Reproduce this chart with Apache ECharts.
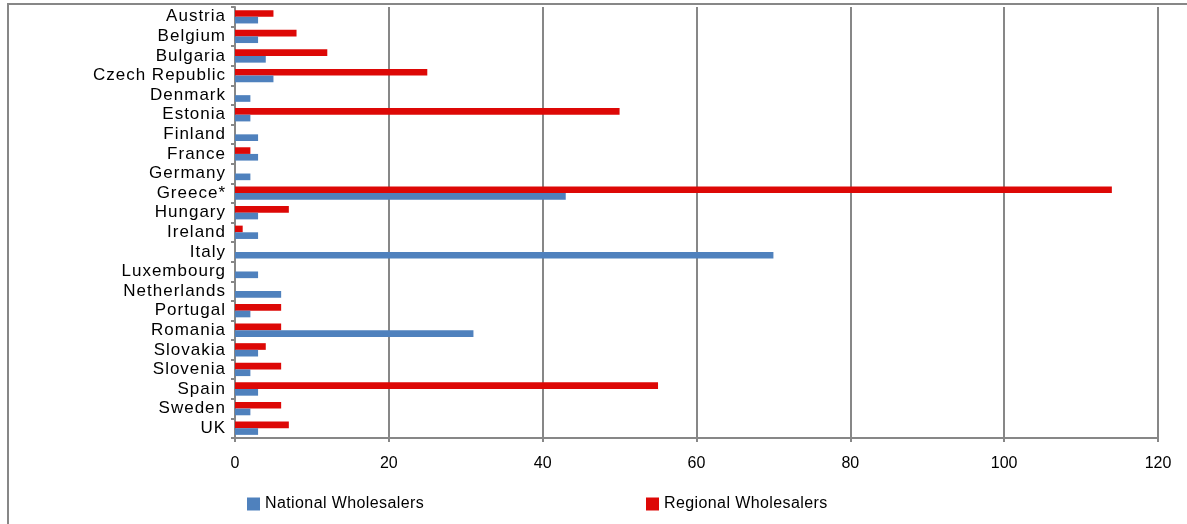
<!DOCTYPE html>
<html>
<head>
<meta charset="utf-8">
<script src="https://cdn.jsdelivr.net/npm/echarts@6/dist/echarts.min.js"></script>
<style>
html,body{margin:0;padding:0;background:#fff;}
#chart{width:1187px;height:524px;}
</style>
</head>
<body>
<div id="chart"></div>
<script>
const categories = ["Austria","Belgium","Bulgaria","Czech Republic","Denmark","Estonia","Finland","France","Germany","Greece*","Hungary","Ireland","Italy","Luxembourg","Netherlands","Portugal","Romania","Slovakia","Slovenia","Spain","Sweden","UK"];
const nationalWholesalers = [3,3,4,5,2,2,3,3,2,43,3,3,70,3,6,2,31,3,2,3,2,3];
const regionalWholesalers = [5,8,12,25,0,50,0,2,0,114,7,1,0,0,0,6,6,4,6,55,6,7];
const xTicks = [0,20,40,60,80,100,120];
const seriesNames = ['National Wholesalers','Regional Wholesalers'];

// mimic the spaced-out text rendering of the original (letter spacing)
(function(){
  const proto = CanvasRenderingContext2D.prototype;
  const orig = proto.fillText;
  proto.fillText = function(text, x, y, maxW){
    let ls = '0px';
    if (categories.indexOf(text) >= 0) ls = '1px';
    else if (seriesNames.indexOf(text) >= 0) ls = '0.4px';
    const prev = this.letterSpacing;
    if ('letterSpacing' in this) this.letterSpacing = ls;
    const r = maxW === undefined ? orig.call(this, text, x, y) : orig.call(this, text, x, y, maxW);
    if ('letterSpacing' in this) this.letterSpacing = prev;
    return r;
  };
})();

const chart = echarts.init(document.getElementById('chart'), null, {renderer:'canvas'});
const font = 'Liberation Sans, Arial, sans-serif';
const gray = '#878787';
const legendText = {fontSize:16, color:'#000', fontFamily:font};
chart.setOption({
  animation:false,
  textStyle:{fontFamily:font},
  graphic:[{type:'rect', shape:{x:8,y:4,width:1300,height:600}, style:{fill:'none', stroke:gray, lineWidth:2}, silent:true, z:-1}],
  grid:{left:235, right:29, top:7, bottom:86, containLabel:false},
  legend:[
    {top:496, left:247, padding:0, itemWidth:13, itemHeight:13, itemGap:5, icon:'rect', textStyle:legendText, data:[seriesNames[0]]},
    {top:496, left:646, padding:0, itemWidth:13, itemHeight:13, itemGap:5, icon:'rect', textStyle:legendText, data:[seriesNames[1]]}
  ],
  xAxis:{
    type:'value', min:xTicks[0], max:xTicks[xTicks.length-1], interval:20,
    axisLine:{show:true, lineStyle:{color:gray, width:2}},
    axisTick:{show:true, length:4, lineStyle:{color:gray, width:2}},
    splitLine:{show:true, lineStyle:{color:gray, width:2}},
    axisLabel:{fontSize:16, color:'#000', margin:18, fontFamily:font}
  },
  yAxis:{
    type:'category', data:categories, inverse:true,
    axisLine:{show:true, lineStyle:{color:gray, width:2}},
    axisTick:{show:true, length:4, interval:0, lineStyle:{color:gray, width:2}},
    axisLabel:{fontSize:17, color:'#000', margin:9, interval:0, fontFamily:font, padding:[5,0,0,0]}
  },
  series:[
    {name:seriesNames[1], type:'bar', data:regionalWholesalers, itemStyle:{color:'#DD0806'}, barGap:'0%', barCategoryGap:'32%'},
    {name:seriesNames[0], type:'bar', data:nationalWholesalers, itemStyle:{color:'#4F81BD'}, barGap:'0%', barCategoryGap:'32%'}
  ]
});
</script>
</body>
</html>
